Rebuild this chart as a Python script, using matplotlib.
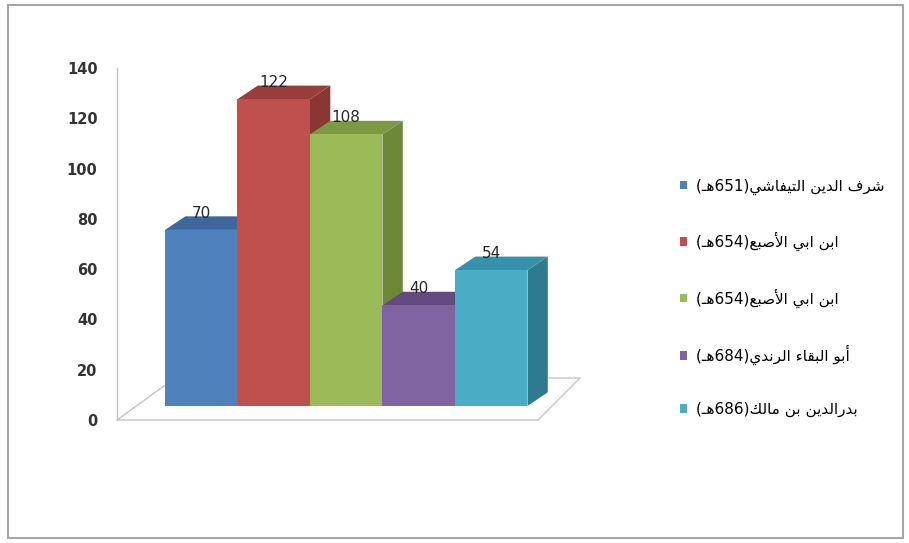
import re
import matplotlib.pyplot as plt
from matplotlib.patches import Polygon, Rectangle, Patch

# Data
names = [
    "شرف الدين التيفاشي(651هـ)",
    "ابن ابي الأصبع(654هـ)",
    "ابن ابي الأصبع(654هـ)",
    "أبو البقاء الرندي(684هـ)",
    "بدرالدين بن مالك(686هـ)",
]
values = [70, 122, 108, 40, 54]
y_ticks = [0, 20, 40, 60, 80, 100, 120, 140]

front_colors = ["#4F81BD", "#C0504D", "#9BBB59", "#8064A2", "#4BACC6"]
top_colors = ["#3C689E", "#9A3D3A", "#7C9A40", "#624B80", "#3592AB"]
side_colors = ["#365C8A", "#8A3633", "#6C8838", "#574270", "#2E7A8E"]


# Arabic shaping (matplotlib has no complex text layout)
FORMS = {
    'ا': ('\uFE8D', '\uFE8E', None, None),
    'أ': ('\uFE83', '\uFE84', None, None),
    'ب': ('\uFE8F', '\uFE90', '\uFE91', '\uFE92'),
    'ت': ('\uFE95', '\uFE96', '\uFE97', '\uFE98'),
    'د': ('\uFEA9', '\uFEAA', None, None),
    'ر': ('\uFEAD', '\uFEAE', None, None),
    'ش': ('\uFEB5', '\uFEB6', '\uFEB7', '\uFEB8'),
    'ص': ('\uFEB9', '\uFEBA', '\uFEBB', '\uFEBC'),
    'ع': ('\uFEC9', '\uFECA', '\uFECB', '\uFECC'),
    'ف': ('\uFED1', '\uFED2', '\uFED3', '\uFED4'),
    'ق': ('\uFED5', '\uFED6', '\uFED7', '\uFED8'),
    'ك': ('\uFED9', '\uFEDA', '\uFEDB', '\uFEDC'),
    'ل': ('\uFEDD', '\uFEDE', '\uFEDF', '\uFEE0'),
    'م': ('\uFEE1', '\uFEE2', '\uFEE3', '\uFEE4'),
    'ن': ('\uFEE5', '\uFEE6', '\uFEE7', '\uFEE8'),
    'ه': ('\uFEE9', '\uFEEA', '\uFEEB', '\uFEEC'),
    'و': ('\uFEED', '\uFEEE', None, None),
    'ي': ('\uFEF1', '\uFEF2', '\uFEF3', '\uFEF4'),
}
LAM_ALEF = {'ا': ('\uFEFB', '\uFEFC'), 'أ': ('\uFEF7', '\uFEF8')}


def dual(c):
    return c == 'ـ' or (c in FORMS and FORMS[c][2] is not None)


def joins(c):
    return c == 'ـ' or c in FORMS


def shape(text):
    out = []
    i = 0
    n = len(text)
    while i < n:
        c = text[i]
        prev_ok = i > 0 and dual(text[i - 1])
        if c == 'ل' and i + 1 < n and text[i + 1] in LAM_ALEF:
            out.append(LAM_ALEF[text[i + 1]][1 if prev_ok else 0])
            i += 2
            continue
        if c in FORMS:
            f = FORMS[c]
            next_ok = i + 1 < n and joins(text[i + 1]) and f[2] is not None
            if prev_ok and next_ok:
                out.append(f[3])
            elif prev_ok:
                out.append(f[1])
            elif next_ok:
                out.append(f[2])
            else:
                out.append(f[0])
        else:
            out.append(c)
        i += 1
    return out


def visual(text):
    mirror = {'(': ')', ')': '('}
    s = ''.join(mirror.get(c, c) for c in shape(text)[::-1])
    return re.sub(r'[0-9]+', lambda m: m.group(0)[::-1], s)


# Geometry of the fake 3D bars (data units)
BASE = 5.6    # front face lifted above the floor edge
DX = 0.28     # depth offset to the right
DY = 5.4      # depth offset upward
W = 1.0

fig = plt.figure(figsize=(9.09, 5.43), dpi=100)
ax = fig.add_axes([117 / 909, 123 / 543, 483 / 909, 352 / 543])
ax.set_xlim(-0.662, 6.0)
ax.set_ylim(0, 140)

# floor and value axis
floor_x = [0.138, -0.662, 5.145, 5.724, 5.3]
floor_y = [16.7, 0, 0, 16.7, 16.7]
ax.plot(floor_x, floor_y, color="#C4C4C4", lw=1, zorder=1, clip_on=False)
ax.plot([-0.662, -0.662], [0, 140], color="#C4C4C4", lw=1, zorder=1, clip_on=False)

for i, v in enumerate(values):
    x0, x1 = i, i + W
    y0, y1 = BASE, BASE + v
    z = 3 + 3 * i
    side = Polygon([(x1, y0), (x1 + DX, y0 + DY), (x1 + DX, y1 + DY), (x1, y1)],
                   closed=True, facecolor=side_colors[i], edgecolor="none", zorder=z)
    top = Polygon([(x0, y1), (x1, y1), (x1 + DX, y1 + DY), (x0 + DX, y1 + DY)],
                  closed=True, facecolor=top_colors[i], edgecolor="none", zorder=z + 1)
    ax.add_patch(side)
    ax.add_patch(top)
    ax.bar(x0, v, width=W, bottom=BASE, align="edge", color=front_colors[i],
           edgecolor="none", zorder=z + 2)
    ax.text(x0 + W / 2, y1 + DY + 1.2, str(v), ha="center", va="center",
            fontsize=11, color="#262626", zorder=100)

ax.set_yticks(y_ticks)
ax.set_yticklabels([str(t) for t in y_ticks], fontsize=10.5, fontweight="bold",
                   color="#333333")
ax.tick_params(axis="y", length=0, pad=14)
ax.set_xticks([])
for s in ax.spines.values():
    s.set_visible(False)
ax.patch.set_alpha(0)

# Legend
handles = [Patch(facecolor=c, edgecolor="none") for c in front_colors]
fig.legend(handles, [visual(n) for n in names], loc="center left",
           bbox_to_anchor=(672 / 909, 1 - 298 / 543), frameon=False,
           prop={"family": "DejaVu Sans", "size": 11},
           handlelength=0.5, handleheight=0.5, handletextpad=0.6,
           labelspacing=2.43, borderpad=0)

# Chart border
fig.add_artist(Rectangle((8 / 909, 5 / 543), 895 / 909, 533 / 543,
                         transform=fig.transFigure, fill=False,
                         edgecolor="#A6A6A6", lw=1.5))

fig.savefig("out.png", dpi=100)
